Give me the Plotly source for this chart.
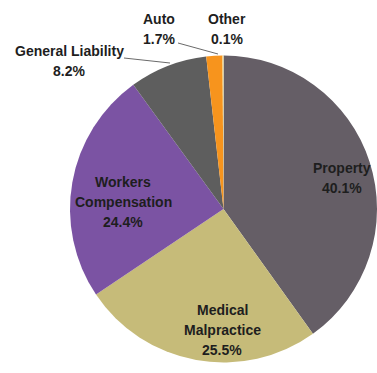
import plotly.graph_objects as go

# Share of losses by line of coverage
categories = ["Property", "Medical Malpractice", "Workers Compensation",
              "General Liability", "Auto", "Other"]
shares = [40.1, 25.5, 24.4, 8.2, 1.7, 0.1]
colors = ["#655e66", "#c6bb79", "#7b53a3", "#5e5e5e", "#f7941d", "#f4e7a6"]

W, H = 377, 373


def px(x):
    return x / W


def py(y):
    return 1 - y / H


fig = go.Figure(go.Pie(
    labels=categories,
    values=shares,
    sort=False,
    direction="clockwise",
    rotation=0,
    marker=dict(colors=colors, line=dict(width=0)),
    textinfo="none",
    hoverinfo="label+percent",
    showlegend=False,
    domain=dict(x=[70 / W, 1.0], y=[py(364), py(54)]),
))

FONT = "Liberation Sans, Arial, sans-serif"
LINE_GAP = 20  # pixels between label lines

# label centre (pixels) of the first line and whether the name wraps
placement = {
    "Property": (342, 168, False),
    "Medical Malpractice": (222, 310, True),
    "Workers Compensation": (123, 182, True),
    "General Liability": (69, 51, False),
    "Auto": (159, 19, False),
    "Other": (227, 19, False),
}

annotations = []
for name, val in zip(categories, shares):
    x, y, wrap = placement[name]
    lines = (name.split(" ") if wrap else [name]) + [f"{val:.1f}%"]
    for i, line in enumerate(lines):
        annotations.append(dict(
            x=px(x), y=py(y + i * LINE_GAP), xref="paper", yref="paper",
            text=f"<b>{line}</b>",
            showarrow=False, align="center",
            xanchor="center", yanchor="middle",
            font=dict(family=FONT, size=14, color="#1e1e1e"),
        ))

# leader lines for the small outside labels
leaders = [((124, 58), (170, 63)), ((178, 43), (218, 54))]
shapes = [dict(type="line", xref="paper", yref="paper",
               x0=px(a[0]), y0=py(a[1]), x1=px(b[0]), y1=py(b[1]),
               line=dict(color="#6a6a6a", width=1))
          for a, b in leaders]

fig.update_layout(
    width=W, height=H,
    margin=dict(l=0, r=0, t=0, b=0),
    paper_bgcolor="white",
    plot_bgcolor="white",
    annotations=annotations,
    shapes=shapes,
)

fig.write_html("out.html")
